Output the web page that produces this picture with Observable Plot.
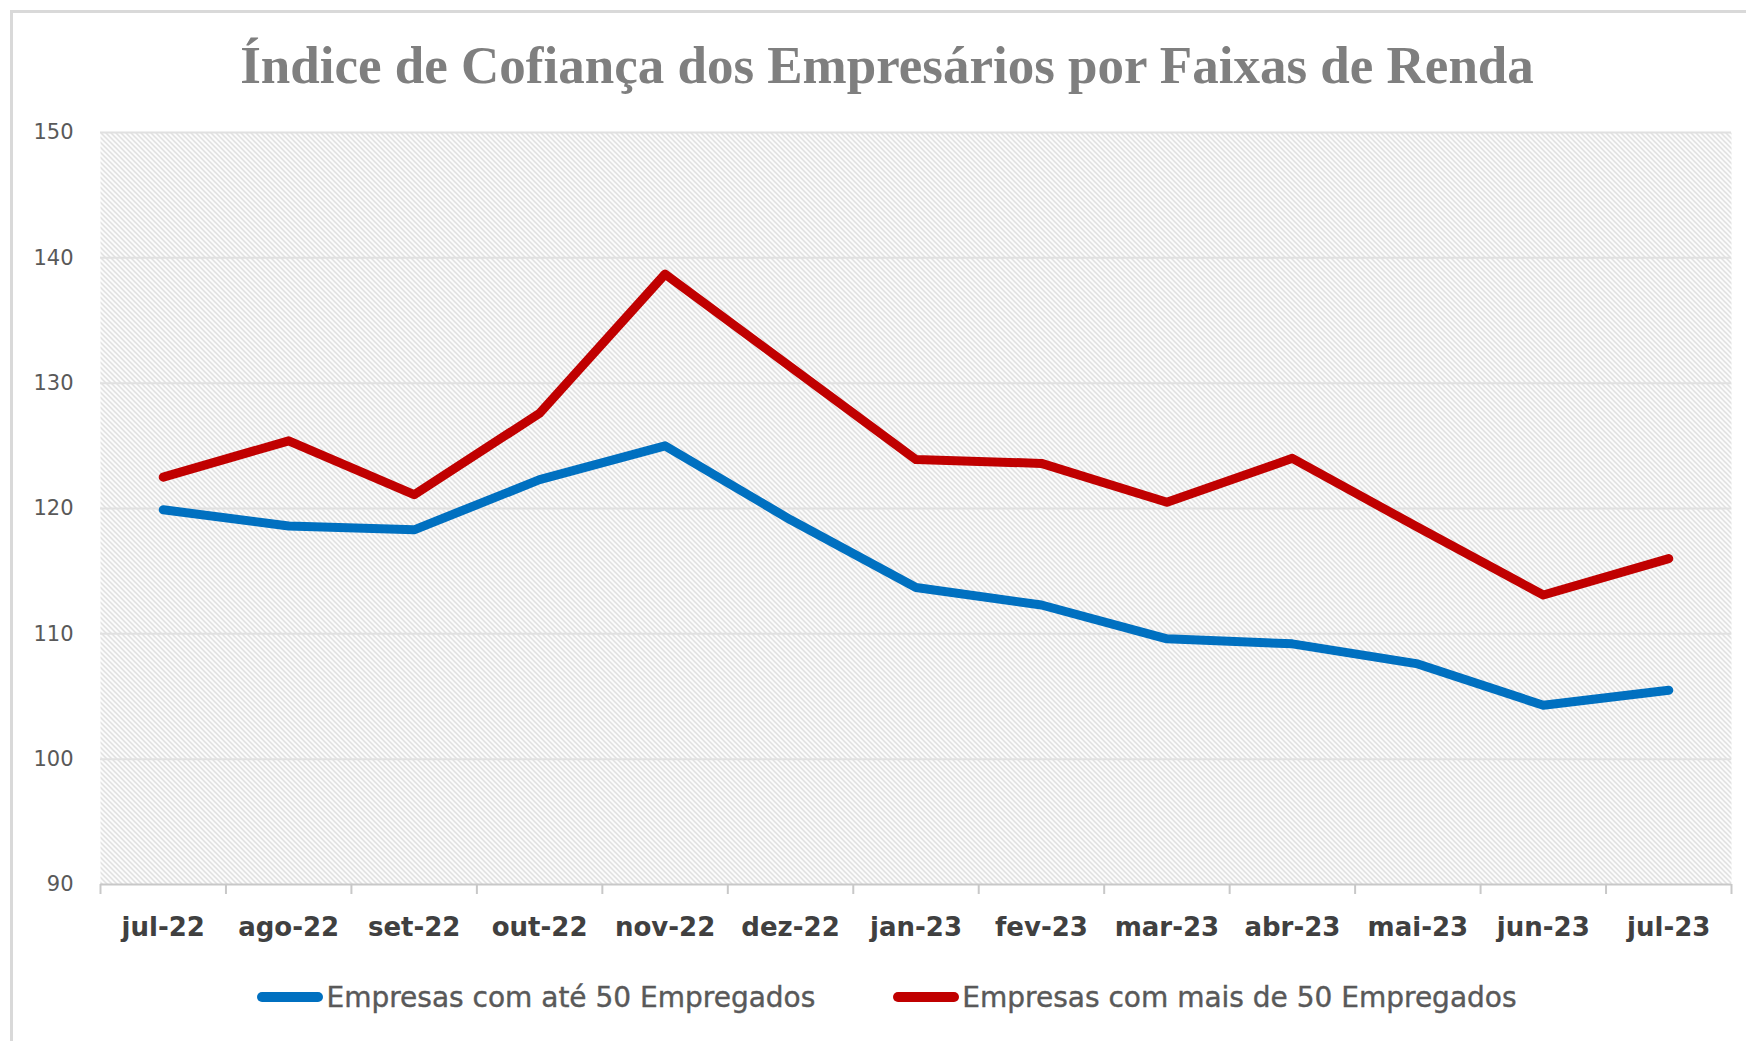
<!DOCTYPE html>
<html><head><meta charset="utf-8">
<script src="https://cdn.jsdelivr.net/npm/d3@7"></script>
<script src="https://cdn.jsdelivr.net/npm/@observablehq/plot@0.6"></script>
<style>
body{margin:0;background:#fff;width:1746px;height:1041px;overflow:hidden;position:relative;font-family:"DejaVu Sans",sans-serif;}
#frame{position:absolute;left:10px;top:10px;width:1780px;height:1100px;border:3px solid #d9d9d9;box-sizing:border-box;}
#title{position:absolute;left:10px;top:0;width:1754px;height:112px;display:flex;align-items:center;justify-content:center;font-family:"Liberation Serif",serif;font-weight:bold;font-size:53px;color:#7f7f7f;padding-top:18px;box-sizing:border-box;}
#chart{position:absolute;left:0;top:112px;}
#legend{position:absolute;left:10px;top:960px;width:1754px;height:74px;display:flex;align-items:center;justify-content:center;gap:78px;font-size:28px;color:#595959;-webkit-text-stroke:0.4px #595959;}
.item{display:flex;align-items:center;}
.sw{width:66px;height:10px;border-radius:5px;margin-right:3px;}
g[aria-label="y-axis tick label"] text{fill:#595959;}
g[aria-label="x-axis tick label"] text{fill:#404040;}
</style></head>
<body>
<div id="frame"></div>
<div id="title">Índice de Cofiança dos Empresários por Faixas de Renda</div>
<div id="chart"></div>
<div id="legend"></div>
<script>
const months = ["jul-22","ago-22","set-22","out-22","nov-22","dez-22","jan-23","fev-23","mar-23","abr-23","mai-23","jun-23","jul-23"];
const seriesNames = ["Empresas com até 50 Empregados","Empresas com mais de 50 Empregados"];
const ate50 = [119.9,118.6,118.3,122.3,125.0,119.1,113.7,112.3,109.6,109.2,107.6,104.3,105.5];
const mais50 = [122.5,125.4,121.1,127.6,138.7,131.3,123.9,123.6,120.5,124.0,118.5,113.1,116.0];
const yTicks = [90,100,110,120,130,140,150];
const colors = ["#0070c0","#c00000"];

const idx = months.map((_, i) => i);
const boundaries = months.map((_, i) => i - 0.5).concat([months.length - 0.5]);
const data = [
  ...ate50.map((v, i) => ({i, v, s: seriesNames[0]})),
  ...mais50.map((v, i) => ({i, v, s: seriesNames[1]}))
];

const chart = Plot.plot({
  width: 1746, height: 848,
  marginLeft: 100, marginRight: 15, marginTop: 20, marginBottom: 76,
  style: {fontFamily: "'DejaVu Sans', sans-serif", background: "transparent"},
  x: {domain: [-0.5, months.length - 0.5], axis: null},
  y: {domain: [90, 150], axis: null},
  color: {domain: seriesNames, range: colors},
  marks: [
    Plot.frame({fill: "url(#hatch)", stroke: null}),
    Plot.gridY(yTicks.filter(d => d > 90), {stroke: "#e0e0e0", strokeWidth: 2, strokeOpacity: 1}),
    Plot.axisY(yTicks, {label: null, tickSize: 0, tickPadding: 27, fontSize: 21, color: "#595959"}),
    Plot.ruleY([90], {stroke: "#c8c8c8", strokeWidth: 2}),
    Plot.axisX(boundaries, {label: null, tickSize: 10, tickFormat: () => "", stroke: "#c8c8c8", strokeWidth: 2, strokeOpacity: 1}),
    Plot.axisX(idx, {label: null, tickSize: 0, tickPadding: 33, tickFormat: i => months[i], fontSize: 26, fontWeight: "bold", color: "#404040"}),
    Plot.line(data, {x: "i", y: "v", z: "s", stroke: "s", strokeWidth: 9, strokeLinecap: "round", strokeLinejoin: "round"})
  ]
});

const ns = "http://www.w3.org/2000/svg";
const defs = document.createElementNS(ns, "defs");
const pat = document.createElementNS(ns, "pattern");
pat.setAttribute("id", "hatch");
pat.setAttribute("patternUnits", "userSpaceOnUse");
pat.setAttribute("width", "5");
pat.setAttribute("height", "5");
const bg = document.createElementNS(ns, "rect");
bg.setAttribute("width", "5"); bg.setAttribute("height", "5"); bg.setAttribute("fill", "#ffffff");
pat.appendChild(bg);
const p = document.createElementNS(ns, "path");
p.setAttribute("d", "M-1,-1 L6,6 M-1,4 L1,6 M4,-1 L6,1");
p.setAttribute("stroke", "#cfcfcf");
p.setAttribute("stroke-width", "1.2");
pat.appendChild(p);
defs.appendChild(pat);
chart.insertBefore(defs, chart.firstChild);
document.getElementById("chart").appendChild(chart);

const legend = document.getElementById("legend");
seriesNames.forEach((name, k) => {
  const it = document.createElement("div");
  it.className = "item";
  const sw = document.createElement("span");
  sw.className = "sw";
  sw.style.background = colors[k];
  const tx = document.createElement("span");
  tx.textContent = name;
  it.appendChild(sw); it.appendChild(tx);
  legend.appendChild(it);
});
</script>
</body></html>
